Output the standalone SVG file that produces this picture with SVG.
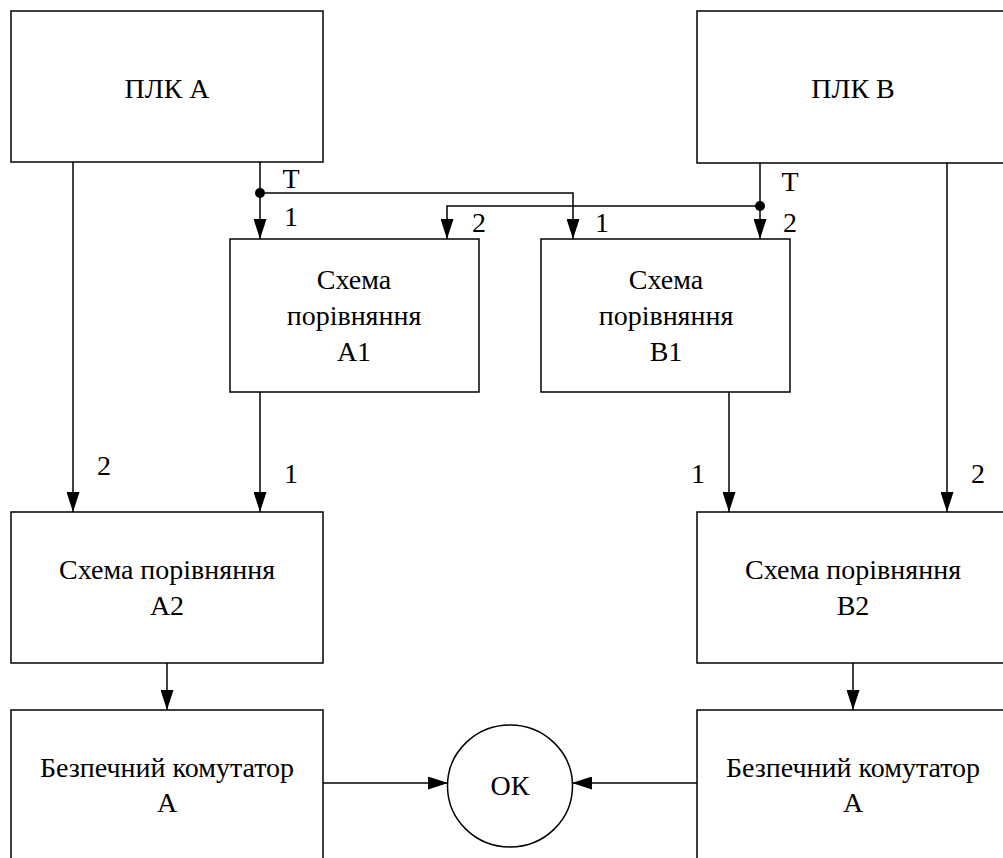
<svg xmlns="http://www.w3.org/2000/svg" width="1003" height="858" viewBox="0 0 1003 858">
  <style>
    .box { fill: #fff; stroke: #000; stroke-width: 1.5; }
    text { font-family: Liberation Serif, Times New Roman, Tinos, serif; font-size: 28px; fill: #000; text-anchor: middle; }
    .wire { fill: none; stroke: #000; stroke-width: 1.5; }
    .dot { fill: #000; }
  </style>
  <defs>
    <marker id="arrow" markerUnits="userSpaceOnUse" markerWidth="20" markerHeight="13" refX="20" refY="6.5" orient="auto">
      <path d="M0,0 L20,6.5 L0,13 z" fill="#000"/>
    </marker>
  </defs>

  <!-- connectors -->
  <g id="connectors">
    <path class="wire" d="M260,162 V239" marker-end="url(#arrow)"/>
    <path class="wire" d="M260,193 H573 V239" marker-end="url(#arrow)"/>
    <path class="wire" d="M760,163 V239" marker-end="url(#arrow)"/>
    <path class="wire" d="M760,206 H447 V239" marker-end="url(#arrow)"/>
    <circle class="dot" cx="260" cy="193" r="5"/>
    <circle class="dot" cx="760" cy="206" r="5"/>
    <path class="wire" d="M73,162 V512" marker-end="url(#arrow)"/>
    <path class="wire" d="M260,392 V512" marker-end="url(#arrow)"/>
    <path class="wire" d="M729,392 V512" marker-end="url(#arrow)"/>
    <path class="wire" d="M947,163 V512" marker-end="url(#arrow)"/>
    <path class="wire" d="M167,663 V710" marker-end="url(#arrow)"/>
    <path class="wire" d="M853,663 V710" marker-end="url(#arrow)"/>
    <path class="wire" d="M323,783 H448" marker-end="url(#arrow)"/>
    <path class="wire" d="M697,783 H572" marker-end="url(#arrow)"/>
    <text x="291" y="188">T</text>
    <text x="291" y="226">1</text>
    <text x="479" y="232">2</text>
    <text x="790" y="191">T</text>
    <text x="602" y="232">1</text>
    <text x="790" y="232">2</text>
    <text x="104" y="475">2</text>
    <text x="291" y="483">1</text>
    <text x="698" y="483">1</text>
    <text x="978" y="483">2</text>
  </g>

  <g id="plc-a">
    <rect class="box" x="11" y="11" width="312" height="151"/>
    <text x="167" y="98">ПЛК А</text>
  </g>
  <g id="plc-b">
    <rect class="box" x="697" y="11" width="312" height="152"/>
    <text x="853" y="98">ПЛК В</text>
  </g>
  <g id="cmp-a1">
    <rect class="box" x="230" y="239" width="249" height="153"/>
    <text x="354" y="289">Схема</text>
    <text x="354" y="325">порівняння</text>
    <text x="354" y="361">А1</text>
  </g>
  <g id="cmp-b1">
    <rect class="box" x="541" y="239" width="249" height="153"/>
    <text x="666" y="289">Схема</text>
    <text x="666" y="325">порівняння</text>
    <text x="666" y="361">В1</text>
  </g>
  <g id="cmp-a2">
    <rect class="box" x="11" y="512" width="312" height="151"/>
    <text x="167" y="579">Схема порівняння</text>
    <text x="167" y="615">А2</text>
  </g>
  <g id="cmp-b2">
    <rect class="box" x="697" y="512" width="312" height="151"/>
    <text x="853" y="579">Схема порівняння</text>
    <text x="853" y="615">В2</text>
  </g>
  <g id="switch-a">
    <rect class="box" x="11" y="710" width="312" height="160"/>
    <text x="167" y="777">Безпечний комутатор</text>
    <text x="167" y="812">А</text>
  </g>
  <g id="switch-b">
    <rect class="box" x="697" y="710" width="312" height="160"/>
    <text x="853" y="777">Безпечний комутатор</text>
    <text x="853" y="812">А</text>
  </g>
  <g id="ok">
    <ellipse class="box" cx="510" cy="786" rx="62.5" ry="61"/>
    <text x="510" y="795">ОК</text>
  </g>
</svg>
